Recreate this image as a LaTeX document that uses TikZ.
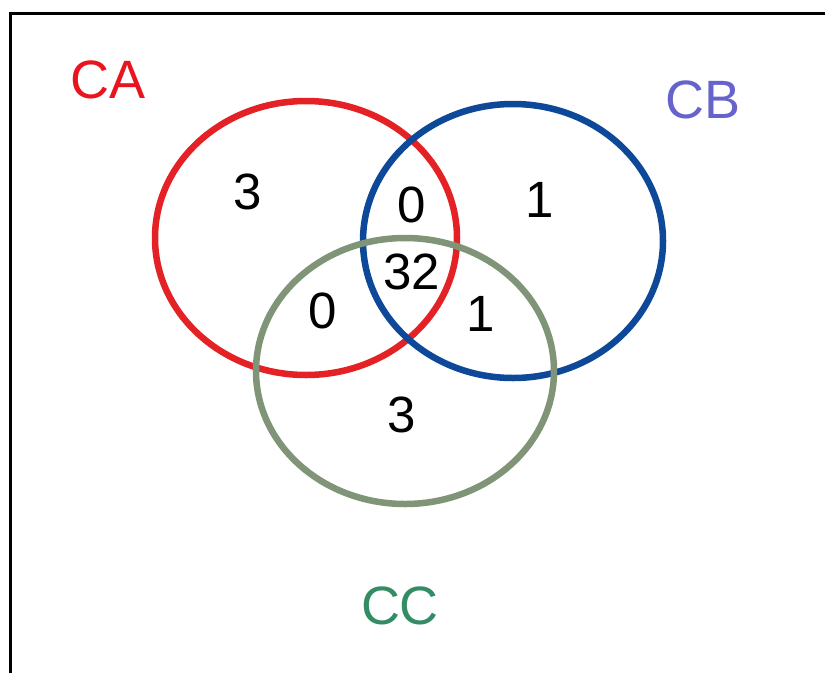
\documentclass[tikz,border=0pt]{standalone}
\usepackage{fontspec}
\setmainfont{Liberation Sans}
\definecolor{setA}{RGB}{228,34,38}
\definecolor{setB}{RGB}{14,72,152}
\definecolor{setC}{RGB}{128,148,120}
\definecolor{labA}{RGB}{232,20,30}
\definecolor{labB}{RGB}{102,100,204}
\definecolor{labC}{RGB}{52,140,100}
\begin{document}
\begin{tikzpicture}[x=1pt,y=-1pt,
  ring/.style={line width=6.5pt},
  count/.style={font=\fontsize{51}{60}\selectfont, inner sep=0pt, text=black},
  setname/.style={font=\fontsize{54}{62}\selectfont, inner sep=0pt}]
  \useasboundingbox (0,0) rectangle (825,673);
  \fill[white] (0,0) rectangle (825,673);
  % frame: top and left edges only
  \draw[line width=3pt] (10,673) -- (10,13) -- (825,13);
  % the three sets
  \draw[ring, setA] (306,238) ellipse [x radius=151, y radius=137];
  \draw[ring, setB] (513,241) ellipse [x radius=150, y radius=137];
  \draw[ring, setC] (405,371) ellipse [x radius=149, y radius=133];
  % set names
  \node[setname, text=labA] (nA) at (108,80) {CA};
  \node[setname, text=labB] (nB) at (703,100) {CB};
  \node[setname, text=labC] (nC) at (400,606) {CC};
  % region counts
  \node[count] (onlyA) at (248,192) {3};
  \node[count] (AB) at (412,205) {0};
  \node[count] (onlyB) at (540,200) {1};
  \node[count] (ABC) at (412,272) {32};
  \node[count] (AC) at (323,311) {0};
  \node[count] (BC) at (481,314) {1};
  \node[count] (onlyC) at (402,415) {3};
\end{tikzpicture}
\end{document}
